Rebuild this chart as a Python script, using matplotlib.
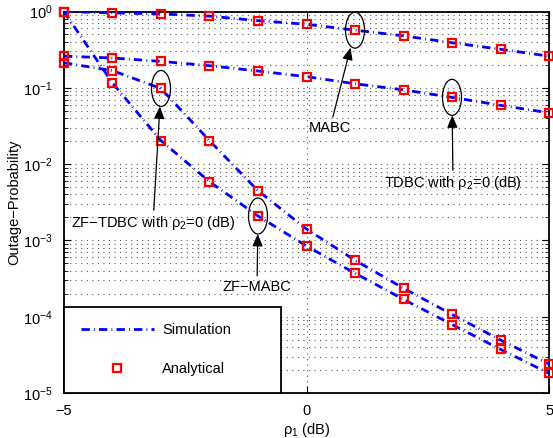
import numpy as np
import matplotlib
matplotlib.use("Agg")
import matplotlib.pyplot as plt
from matplotlib.patches import Ellipse
from matplotlib.transforms import ScaledTranslation

plt.rcParams['font.family'] = ['Liberation Sans', 'DejaVu Sans']
plt.rcParams['font.size'] = 10.5
plt.rcParams['mathtext.fontset'] = 'custom'
plt.rcParams['mathtext.rm'] = 'Liberation Sans'
plt.rcParams['mathtext.it'] = 'Liberation Sans:italic'
plt.rcParams['mathtext.default'] = 'regular'

# rho_1 in dB
rho1 = [-5, -4, -3, -2, -1, 0, 1, 2, 3, 4, 5]

# outage probabilities
mabc = [1.0, 0.96, 0.93, 0.87, 0.76, 0.68, 0.57, 0.48, 0.39, 0.32, 0.26]
tdbc = [0.26, 0.246, 0.222, 0.195, 0.166, 0.14, 0.113, 0.094, 0.075, 0.059, 0.047]
zf_tdbc = [0.213, 0.168, 0.098, 0.0203, 0.00448, 0.00141, 0.00055, 0.000236,
           0.000107, 4.95e-5, 2.4e-5]
zf_mabc = [1.0, 0.1156, 0.0203, 0.00589, 0.00209, 0.000845, 0.000371, 0.000169,
           7.9e-5, 3.74e-5, 1.81e-5]

curves = [mabc, tdbc, zf_tdbc, zf_mabc]

fig = plt.figure(figsize=(5.53, 4.38), dpi=100)
ax = fig.add_axes([0.1157, 0.1027, 0.8771, 0.871])

for i, y in enumerate(curves):
    ax.plot(rho1, y, color='blue', lw=2, dashes=(3, 1.5, 0.3, 1.5),
            label='Simulation' if i == 0 else None, zorder=3)
for i, y in enumerate(curves):
    ax.plot(rho1, y, ls='none', marker='s', ms=6, mfc='none', mec='red', mew=1.6,
            label='Analytical' if i == 0 else None, zorder=4, clip_on=False)

ax.set_yscale('log')
ax.set_xlim(-5, 5)
ax.set_ylim(1e-5, 1)
ax.set_xticks([-5, 0, 5])
ax.set_xticklabels(['\u22125', '0', '5'])
ax.tick_params(which='both', direction='in', top=True, right=True)
ax.tick_params(which='major', length=5, pad=8)
ax.tick_params(which='minor', length=3)
for s in ax.spines.values():
    s.set_linewidth(1.3)

ax.grid(True, which='major', axis='both', ls=(0, (1, 4)), lw=0.8, color='0.35')
ax.grid(True, which='minor', axis='y', ls=(0, (1, 4)), lw=0.8, color='0.35')

ax.set_xlabel('ρ$_1$ (dB)', labelpad=2)
ax.set_ylabel('Outage\u2212Probability', labelpad=1)

# ellipses and arrows
notes = [
    ('MABC', 1, mabc[6], (-25, -98)),
    ('TDBC with ρ$_2$=0 (dB)', 3, tdbc[8], (1, -86)),
    ('ZF\u2212TDBC with ρ$_2$=0 (dB)', -3, zf_tdbc[2], (-8, -135)),
    ('ZF\u2212MABC', -1, zf_mabc[4], (-1, -71)),
]
for txt, xm, ym, off in notes:
    el = Ellipse((0, 0), 0.19, 0.36, fill=False, ec='black', lw=0.9,
                 transform=fig.dpi_scale_trans + ScaledTranslation(xm, ym, ax.transData),
                 zorder=5)
    ax.add_patch(el)
    ax.annotate(txt, xy=(xm, ym), xycoords='data', xytext=off,
                textcoords='offset pixels', ha='center', va='center',
                arrowprops=dict(arrowstyle='-|>,head_length=0.7,head_width=0.3',
                                color='black', lw=0.9, shrinkA=1, shrinkB=13),
                zorder=6)

leg = ax.legend(loc='lower left', bbox_to_anchor=(0, 0, 0.447, 0.231), mode='expand',
                borderaxespad=0, fancybox=False, edgecolor='black', framealpha=1,
                handlelength=5.0, handletextpad=0.6, labelspacing=1.7, borderpad=1.15)
leg.get_frame().set_linewidth(1.3)
leg.set_zorder(10)

fig.savefig('out.png', dpi=100)
